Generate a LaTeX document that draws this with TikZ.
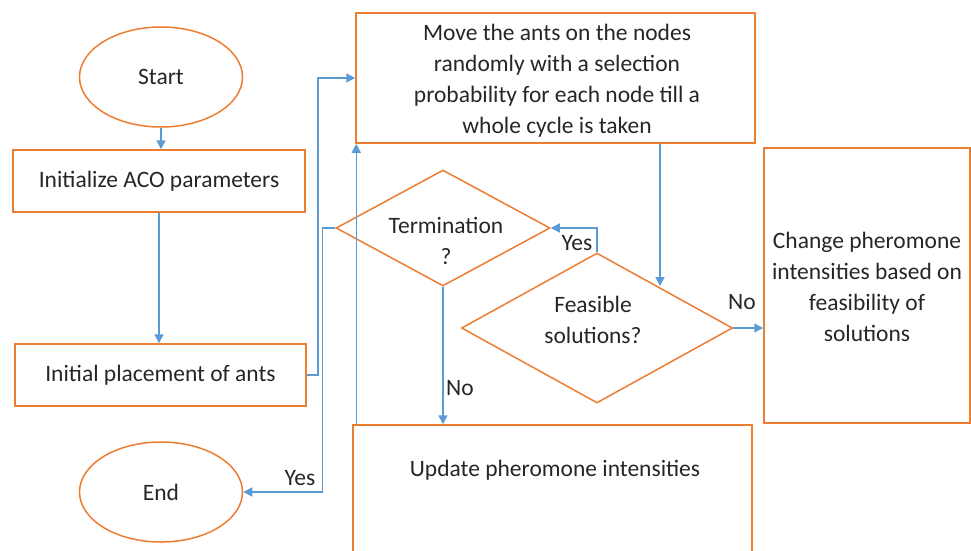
\documentclass[tikz,border=0pt]{standalone}
\usepackage{fontspec}
\setmainfont{Carlito}
\usetikzlibrary{shapes.geometric,arrows.meta}
\definecolor{borange}{HTML}{ED7D31}
\definecolor{lblue}{HTML}{5B9BD5}
\definecolor{txtc}{HTML}{262626}
\begin{document}
\begin{tikzpicture}[x=1pt,y=-1pt,
  every node/.style={text=txtc,font=\fontsize{23.5pt}{31pt}\selectfont},
  boxs/.style={draw=borange,line width=1.5pt,rectangle,inner sep=0pt},
  ells/.style={draw=borange,line width=1.5pt,ellipse,inner sep=0pt,minimum width=163pt,minimum height=100pt},
  dias/.style={draw=borange,line width=1.5pt,diamond,inner sep=0pt},
  txts/.style={align=center,inner sep=0pt},
  arr/.style={draw=lblue,line width=1.5pt,-{Triangle[length=9pt,width=9pt]}},
  lab/.style={inner sep=0pt}]
\useasboundingbox (0,0) rectangle (971,550);
% nodes
\node[ells] (start) at (161,77) {Start};
\node[boxs,minimum width=292pt,minimum height=62pt] (init) at (159,181) {Initialize ACO parameters};
\node[boxs,minimum width=291pt,minimum height=62pt] (place) at (160.5,375) {Initial placement of ants};
\node[ells] (endn) at (161,492) {End};
\node[boxs,minimum width=399pt,minimum height=130pt] (move) at (555.5,78) {};
\node[txts] (movet) at (557,81) {Move the ants on the nodes\\randomly with a selection\\probability for each node till a\\whole cycle is taken};
\node[dias,minimum width=214pt,minimum height=116pt] (term) at (443,228) {};
\node[txts] (termt) at (446,241) {Termination\\?};
\node[dias,minimum width=271pt,minimum height=150pt] (feas) at (597,328) {};
\node[txts] (feast) at (593,320) {Feasible\\solutions?};
\node[boxs,minimum width=206pt,minimum height=275pt] (change) at (867,285.5) {};
\node[txts] (changet) at (867,287) {Change pheromone\\intensities based on\\feasibility of\\solutions};
\node[boxs,minimum width=399pt,minimum height=175pt] (update) at (552.5,512.5) {};
\node[txts] (updatet) at (555,470) {Update pheromone intensities};
\coordinate (fe) at (660,286);
% connectors
\draw[arr] (start.south) -- (start.south |- init.north);
\draw[arr] (init.south) -- (init.south |- place.north);
\draw[arr] (place.east) -- ++(11,0) |- (move.west);
\draw[arr] ([xshift=4pt]update.north west) -- ([xshift=4pt]update.north west |- move.south);
\draw[arr] (move.south -| fe) -- (fe);
\draw[arr] (feas.north) |- (term.east);
\draw[arr] (feas.east) -- (feas.east -| change.west);
\draw[arr] (term.south) -- (term.south |- update.north);
\draw[arr] (term.west) -- ++(-13,0) |- (endn.east);
% labels
\node[lab] (yes1) at (577,243) {Yes};
\node[lab] (no1) at (742,302) {No};
\node[lab] (no2) at (460,388) {No};
\node[lab] (yes2) at (300,478) {Yes};
\end{tikzpicture}
\end{document}
